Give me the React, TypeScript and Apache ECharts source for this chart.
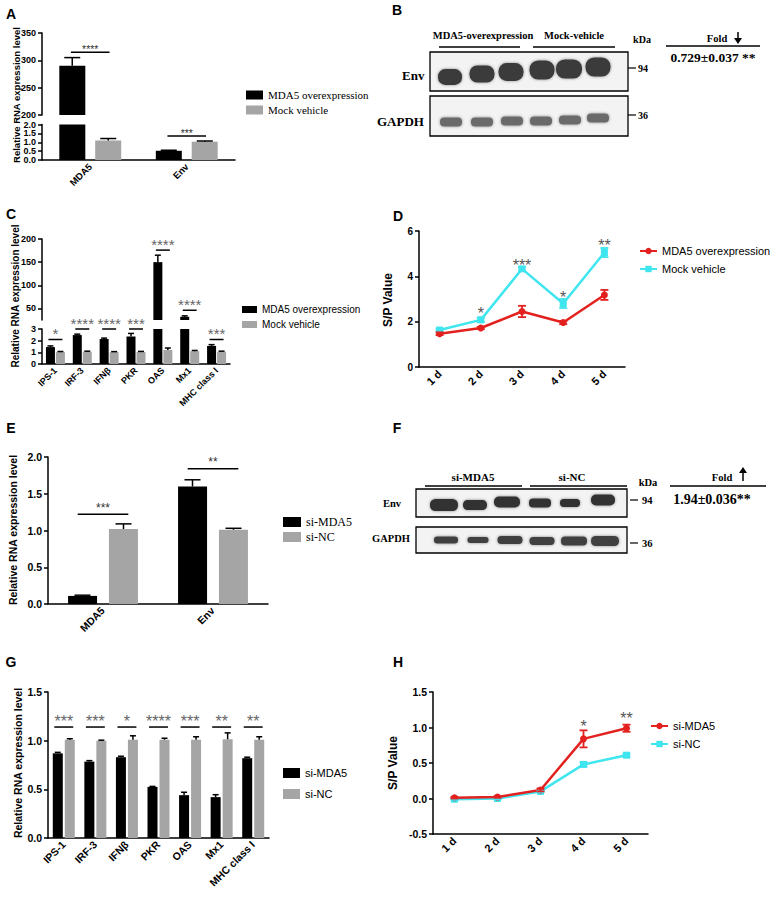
import React, { useEffect, useRef } from 'react';
import * as echarts from 'echarts';

const SANS = '"Liberation Sans", Arial, Helvetica, sans-serif';
const SERIF = '"Liberation Serif", "Times New Roman", Times, serif';
const INK = '#000000';
const GRAY = '#a5a5a5';
const RED = '#e3211f';
const CYAN = '#3fe5ef';

// ---------------- Panel A ----------------
const A_CATS = ['MDA5', 'Env'];
const A_NAMES = ['MDA5 overexpression', 'Mock vehicle'];
const A_OVER = [290, 0.52];
const A_OVER_HI = [305, 0.55];
const A_MOCK = [1.1, 1.03];
const A_MOCK_HI = [1.21, 1.07];
const A_SIG = ['****', '***'];
const A_SIG_Y = [315, 1.35];

// ---------------- Panel C ----------------
const C_CATS = ['IPS-1', 'IRF-3', 'IFNβ', 'PKR', 'OAS', 'Mx1', 'MHC class I'];
const C_NAMES = ['MDA5 overexpression', 'Mock vehicle'];
const C_OVER = [1.45, 2.48, 2.14, 2.35, 150, 32, 1.55];
const C_OVER_HI = [1.55, 2.56, 2.22, 2.62, 165, 34, 1.66];
const C_MOCK = [1.02, 1.05, 1.02, 1.03, 1.2, 1.1, 1.05];
const C_MOCK_HI = [1.07, 1.1, 1.06, 1.08, 1.37, 1.16, 1.1];
const C_SIG = ['*', '****', '****', '***', '****', '****', '***'];
const C_SIG_Y = [2.1, 3.0, 3.0, 3.0, 176, 46, 2.1];
const C_UPPER_TICKS = [50, 100, 150, 200];

// ---------------- Panel D ----------------
const D_DAYS = ['1 d', '2 d', '3 d', '4 d', '5 d'];
const D_NAMES = ['MDA5 overexpression', 'Mock vehicle'];
const D_OVER = [1.47, 1.72, 2.45, 1.96, 3.18];
const D_OVER_ERR = [0.06, 0.05, 0.25, 0.07, 0.22];
const D_MOCK = [1.63, 2.08, 4.33, 2.8, 5.05];
const D_MOCK_ERR = [0.05, 0.1, 0.08, 0.2, 0.2];
const D_SIG = ['', '*', '***', '*', '**'];
const D_SIG_Y = [0, 2.5, 4.62, 3.2, 5.5];

// ---------------- Panel E ----------------
const E_CATS = ['MDA5', 'Env'];
const E_NAMES = ['si-MDA5', 'si-NC'];
const E_SI = [0.11, 1.6];
const E_SI_HI = [0.12, 1.69];
const E_NC = [1.02, 1.01];
const E_NC_HI = [1.09, 1.03];
const E_SIG = ['***', '**'];
const E_SIG_Y = [1.22, 1.84];

// ---------------- Panel G ----------------
const G_CATS = ['IPS-1', 'IRF-3', 'IFNβ', 'PKR', 'OAS', 'Mx1', 'MHC class I'];
const G_NAMES = ['si-MDA5', 'si-NC'];
const G_SI = [0.87, 0.785, 0.83, 0.525, 0.44, 0.42, 0.82];
const G_SI_HI = [0.88, 0.795, 0.84, 0.53, 0.47, 0.445, 0.83];
const G_NC = [1.01, 1.0, 1.01, 1.01, 1.01, 1.015, 1.01];
const G_NC_HI = [1.02, 1.005, 1.05, 1.025, 1.04, 1.08, 1.04];
const G_SIG = ['***', '***', '*', '****', '***', '**', '**'];
const G_SIG_Y = [1.14, 1.14, 1.14, 1.14, 1.14, 1.14, 1.14];

// ---------------- Panel H ----------------
const H_DAYS = ['1 d', '2 d', '3 d', '4 d', '5 d'];
const H_NAMES = ['si-MDA5', 'si-NC'];
const H_SI = [0.01, 0.02, 0.12, 0.84, 0.99];
const H_SI_ERR = [0.01, 0.01, 0.02, 0.12, 0.05];
const H_NC = [-0.01, 0.0, 0.1, 0.48, 0.61];
const H_NC_ERR = [0.01, 0.01, 0.01, 0.03, 0.02];
const H_SIG = ['', '', '', '*', '**'];
const H_SIG_Y = [0, 0, 0, 1.07, 1.17];

// ---------------- Western blot texts ----------------
const B_GROUPS = ['MDA5-overexpression', 'Mock-vehicle'];
const B_FOLD = '0.729±0.037 **';
const F_GROUPS = ['si-MDA5', 'si-NC'];
const F_FOLD = '1.94±0.036**';
const BLOT_ROWS = ['Env', 'GAPDH'];
const BLOT_KDA = ['94', '36'];
const Y_TITLE = 'Relative RNA expression level';
const SP_TITLE = 'S/P Value';

function buildOption() {
  const grids: any[] = [];
  const xAxes: any[] = [];
  const yAxes: any[] = [];
  const series: any[] = [];
  const legends: any[] = [];

  const valueAxis = (gi: number, min: number, max: number, interval: number | null, dec: number, font: number, custom?: number[]) => {
    const ax: any = {
      gridIndex: gi, type: 'value', min, max,
      axisLine: { show: true, onZero: false, lineStyle: { color: INK, width: 1.5 } },
      axisTick: { show: true, length: 4, lineStyle: { color: INK, width: 1.5 } },
      axisLabel: { margin: 6, color: INK, fontFamily: SANS, fontWeight: 'bold', fontSize: font, formatter: (v: number) => v.toFixed(dec) },
      splitLine: { show: false },
    };
    if (interval) ax.interval = interval;
    if (custom) { ax.axisTick.customValues = custom; ax.axisLabel.customValues = custom; }
    return ax;
  };

  const catAxis = (gi: number, data: string[], font: number, show = true) => ({
    gridIndex: gi, type: 'category', data, boundaryGap: true, show,
    axisLine: { onZero: false, lineStyle: { color: INK, width: 1.5 } },
    axisTick: { alignWithLabel: true, length: 4, lineStyle: { color: INK, width: 1.5 } },
    axisLabel: { interval: 0, rotate: 45, margin: 5, color: INK, fontFamily: SANS, fontWeight: 'bold', fontSize: font },
    splitLine: { show: false },
  });

  const bar = (name: string, xi: number, yi: number, data: any[], color: string, w: number, gap: number) => ({
    type: 'bar', name, xAxisIndex: xi, yAxisIndex: yi, data, silent: true, clip: true, z: 2,
    barWidth: w, barGap: `${Math.round((gap / w) * 100)}%`,
    itemStyle: { color },
  });

  const errSeries = (xi: number, yi: number, pts: number[][], offset: number, capHalf: number, color: string, lw: number, both: boolean) => ({
    type: 'custom', xAxisIndex: xi, yAxisIndex: yi, silent: true, clip: false, z: 4,
    data: pts,
    renderItem: (_p: any, api: any) => {
      const lo = api.coord([api.value(0), api.value(1)]);
      const hi = api.coord([api.value(0), api.value(2)]);
      const x = lo[0] + offset;
      const st = { stroke: color, lineWidth: lw };
      const ch: any[] = [
        { type: 'line', shape: { x1: x, y1: lo[1], x2: x, y2: hi[1] }, style: st },
        { type: 'line', shape: { x1: x - capHalf, y1: hi[1], x2: x + capHalf, y2: hi[1] }, style: st },
      ];
      if (both) ch.push({ type: 'line', shape: { x1: x - capHalf, y1: lo[1], x2: x + capHalf, y2: lo[1] }, style: st });
      return { type: 'group', children: ch };
    },
  });

  const sigSeries = (xi: number, yi: number, items: { i: number; y: number; t: string }[], halfFrac: number, font: number, color: string, textOff: number, withLine: boolean) => ({
    type: 'custom', xAxisIndex: xi, yAxisIndex: yi, silent: true, clip: false, z: 5,
    data: items.map((d) => [d.i, d.y]),
    renderItem: (params: any, api: any) => {
      const it = items[params.dataIndex];
      const p = api.coord([api.value(0), api.value(1)]);
      const band = api.size([1, 0])[0];
      const hw = band * halfFrac;
      const ch: any[] = [];
      if (withLine) ch.push({ type: 'line', shape: { x1: p[0] - hw, y1: p[1], x2: p[0] + hw, y2: p[1] }, style: { stroke: INK, lineWidth: 1.5 } });
      ch.push({
        type: 'text', x: p[0], y: p[1] - textOff,
        style: { text: it.t, fill: color, font: `${font}px ${SANS}`, align: 'center', verticalAlign: 'middle', textAlign: 'center', textVerticalAlign: 'middle' },
      });
      return { type: 'group', children: ch };
    },
  });

  const addBarPanel = (p: any) => {
    const lg = grids.push({ left: p.left, top: p.lower.top, width: p.width, height: p.lower.height }) - 1;
    const lx = xAxes.push(catAxis(lg, p.cats, p.catFont)) - 1;
    const ly = yAxes.push(valueAxis(lg, p.lower.min, p.lower.max, p.lower.interval, p.lower.dec, p.tickFont)) - 1;
    const n1 = `${p.key}|${p.names[0]}`;
    const n2 = `${p.key}|${p.names[1]}`;
    series.push(bar(n1, lx, ly, p.v1, INK, p.barWidth, p.gapPx));
    series.push(bar(n2, lx, ly, p.v2, GRAY, p.barWidth, p.gapPx));
    let ux = -1;
    let uy = -1;
    const lowerMax = p.lower.max;
    if (p.upper) {
      const ug = grids.push({ left: p.left, top: p.upper.top, width: p.width, height: p.upper.height }) - 1;
      ux = xAxes.push(catAxis(ug, p.cats, p.catFont, false)) - 1;
      uy = yAxes.push(valueAxis(ug, p.upper.min, p.upper.max, p.upper.interval || null, 0, p.tickFont, p.upper.ticks)) - 1;
      series.push(bar(n1, ux, uy, p.v1.map((v: number) => (v > p.upper.min ? v : '-')), INK, p.barWidth, p.gapPx));
      series.push(bar(n2, ux, uy, p.v2.map((v: number) => (v > p.upper.min ? v : '-')), GRAY, p.barWidth, p.gapPx));
    }
    const off = (p.barWidth + p.gapPx) / 2;
    const groups: [number[], number[], number][] = [[p.v1, p.h1, -off], [p.v2, p.h2, off]];
    groups.forEach(([vals, his, o]) => {
      const lowPts: number[][] = [];
      const upPts: number[][] = [];
      vals.forEach((v, i) => {
        if (p.upper && his[i] > lowerMax) upPts.push([i, v, his[i]]);
        else lowPts.push([i, v, his[i]]);
      });
      if (lowPts.length) series.push(errSeries(lx, ly, lowPts, o, p.capHalf, INK, 1.5, false));
      if (upPts.length) series.push(errSeries(ux, uy, upPts, o, p.capHalf, INK, 1.5, false));
    });
    const lowSig: any[] = [];
    const upSig: any[] = [];
    p.sig.forEach((t: string, i: number) => {
      const y = p.sigY[i];
      if (p.upper && y > lowerMax) upSig.push({ i, y, t });
      else lowSig.push({ i, y, t });
    });
    if (lowSig.length) series.push(sigSeries(lx, ly, lowSig, p.sigHalf, p.sigFont, p.sigColor, p.sigOff, true));
    if (upSig.length) series.push(sigSeries(ux, uy, upSig, p.sigHalf, p.sigFont, p.sigColor, p.sigOff, true));
    legends.push({
      orient: 'vertical', left: p.legend.left, top: p.legend.top, padding: 0, icon: 'rect',
      itemWidth: p.legend.w, itemHeight: p.legend.h, itemGap: p.legend.gap, selectedMode: false,
      data: [n1, n2], formatter: (n: string) => n.split('|')[1],
      textStyle: { color: INK, fontFamily: p.legend.font, fontSize: p.legend.size, lineHeight: p.legend.lh },
    });
  };

  const addLinePanel = (p: any) => {
    const g = grids.push({ left: p.left, top: p.top, width: p.width, height: p.height }) - 1;
    const xi = xAxes.push(catAxis(g, p.cats, p.catFont)) - 1;
    const yi = yAxes.push(valueAxis(g, p.min, p.max, p.interval, p.dec, p.tickFont)) - 1;
    const n1 = `${p.key}|${p.names[0]}`;
    const n2 = `${p.key}|${p.names[1]}`;
    series.push({
      type: 'line', name: n1, xAxisIndex: xi, yAxisIndex: yi, data: p.v1, silent: true, z: 3,
      symbol: 'circle', symbolSize: 7, lineStyle: { color: RED, width: 2.5 }, itemStyle: { color: RED },
    });
    series.push({
      type: 'line', name: n2, xAxisIndex: xi, yAxisIndex: yi, data: p.v2, silent: true, z: 2,
      symbol: 'rect', symbolSize: 7, lineStyle: { color: CYAN, width: 2.5 }, itemStyle: { color: CYAN },
    });
    series.push(errSeries(xi, yi, p.v2.map((v: number, i: number) => [i, v - p.e2[i], v + p.e2[i]]), 0, 4, CYAN, 1.8, true));
    series.push(errSeries(xi, yi, p.v1.map((v: number, i: number) => [i, v - p.e1[i], v + p.e1[i]]), 0, 4, RED, 1.8, true));
    const items: any[] = [];
    p.sig.forEach((t: string, i: number) => { if (t) items.push({ i, y: p.sigY[i], t }); });
    series.push(sigSeries(xi, yi, items, 0, 16, '#555', -3.5, false));
    legends.push({
      orient: 'vertical', left: p.legend.left, top: p.legend.top, padding: 0,
      itemWidth: 17, itemHeight: 8, itemGap: p.legend.gap, selectedMode: false,
      data: [n1, n2], formatter: (n: string) => n.split('|')[1],
      textStyle: { color: INK, fontFamily: SANS, fontSize: 11, lineHeight: 12 },
    });
  };

  addBarPanel({
    key: 'A', cats: A_CATS, names: A_NAMES, v1: A_OVER, h1: A_OVER_HI, v2: A_MOCK, h2: A_MOCK_HI,
    sig: A_SIG, sigY: A_SIG_Y, left: 42, width: 193,
    lower: { top: 124.5, height: 35.5, min: 0, max: 2, interval: 0.5, dec: 1 },
    upper: { top: 33, height: 82, min: 200, max: 350, interval: 50 },
    barWidth: 26, gapPx: 10, capHalf: 8, sigHalf: 0.2, sigFont: 10.5, sigColor: '#333', sigOff: 3.5,
    tickFont: 9, catFont: 9.5,
    legend: { left: 246, top: 89, w: 17, h: 9, gap: 3, lh: 12, font: SERIF, size: 11 },
  });
  addBarPanel({
    key: 'C', cats: C_CATS, names: C_NAMES, v1: C_OVER, h1: C_OVER_HI, v2: C_MOCK, h2: C_MOCK_HI,
    sig: C_SIG, sigY: C_SIG_Y, left: 42, width: 188,
    lower: { top: 329, height: 35, min: 0, max: 3, interval: 1, dec: 0 },
    upper: { top: 239, height: 81, min: 25, max: 200, ticks: C_UPPER_TICKS },
    barWidth: 9, gapPx: 1, capHalf: 3, sigHalf: 0.26, sigFont: 15, sigColor: '#666', sigOff: 6,
    tickFont: 9, catFont: 9,
    legend: { left: 242, top: 303.5, w: 15, h: 7, gap: 3, lh: 12, font: SANS, size: 10 },
  });
  addBarPanel({
    key: 'E', cats: E_CATS, names: E_NAMES, v1: E_SI, h1: E_SI_HI, v2: E_NC, h2: E_NC_HI,
    sig: E_SIG, sigY: E_SIG_Y, left: 48, width: 220,
    lower: { top: 457, height: 147, min: 0, max: 2, interval: 0.5, dec: 1 },
    barWidth: 29, gapPx: 12, capHalf: 8, sigHalf: 0.23, sigFont: 12, sigColor: '#333', sigOff: 6.5,
    tickFont: 10.5, catFont: 10.5,
    legend: { left: 283, top: 516, w: 18, h: 10, gap: 3, lh: 12, font: SERIF, size: 12 },
  });
  addBarPanel({
    key: 'G', cats: G_CATS, names: G_NAMES, v1: G_SI, h1: G_SI_HI, v2: G_NC, h2: G_NC_HI,
    sig: G_SIG, sigY: G_SIG_Y, left: 48, width: 221,
    lower: { top: 692, height: 146, min: 0, max: 1.5, interval: 0.5, dec: 1 },
    barWidth: 10, gapPx: 2, capHalf: 3, sigHalf: 0.3, sigFont: 16, sigColor: '#666', sigOff: 6,
    tickFont: 10.5, catFont: 10.5,
    legend: { left: 283, top: 766.5, w: 17, h: 10, gap: 8, lh: 13, font: SANS, size: 11 },
  });
  addLinePanel({
    key: 'D', cats: D_DAYS, names: D_NAMES, v1: D_OVER, e1: D_OVER_ERR, v2: D_MOCK, e2: D_MOCK_ERR,
    sig: D_SIG, sigY: D_SIG_Y, left: 419, top: 231, width: 206, height: 136, min: 0, max: 6, interval: 2, dec: 0,
    tickFont: 10, catFont: 11, legend: { left: 639, top: 245, gap: 6 },
  });
  addLinePanel({
    key: 'H', cats: H_DAYS, names: H_NAMES, v1: H_SI, e1: H_SI_ERR, v2: H_NC, e2: H_NC_ERR,
    sig: H_SIG, sigY: H_SIG_Y, left: 433, top: 692, width: 215, height: 142, min: -0.5, max: 1.5, interval: 0.5, dec: 1,
    tickFont: 10.5, catFont: 11, legend: { left: 650, top: 720, gap: 6 },
  });

  // ---------------- graphic: letters, titles, blots ----------------
  const txt = (x: number, y: number, text: string, font: string, align = 'left', rotation = 0, fill = INK) => ({
    type: 'text', x, y, rotation, silent: true,
    style: { text, font, fill, align, verticalAlign: 'middle', textAlign: align, textVerticalAlign: 'middle' },
  });
  const ln = (x1: number, y1: number, x2: number, y2: number, w = 1.5) => ({
    type: 'line', silent: true, shape: { x1, y1, x2, y2 }, style: { stroke: INK, lineWidth: w },
  });
  const band = (cx: number, cy: number, w: number, h: number, fill: string) => ({
    type: 'rect', silent: true, shape: { x: cx - w / 2, y: cy - h / 2, width: w, height: h, r: Math.min(w, h) / 2.2 },
    style: { fill, shadowBlur: 3, shadowColor: 'rgba(0,0,0,0.45)' },
  });
  const box = (x: number, y: number, w: number, h: number) => ({
    type: 'rect', silent: true, shape: { x, y, width: w, height: h }, style: { fill: '#f3f3f3', stroke: INK, lineWidth: 1.3 },
  });

  const letter = (x: number, y: number, t: string) => txt(x, y, t, `bold 14px ${SANS}`, 'center');
  const g: any[] = [
    letter(11, 14, 'A'), letter(397, 10, 'B'), letter(11, 214, 'C'), letter(398, 216, 'D'),
    letter(11, 428, 'E'), letter(397, 428, 'F'), letter(11, 662, 'G'), letter(398, 662, 'H'),
    txt(16, 95, Y_TITLE, `bold 9.5px ${SANS}`, 'center', Math.PI / 2),
    txt(15, 296, Y_TITLE, `bold 10px ${SANS}`, 'center', Math.PI / 2),
    txt(13, 530, Y_TITLE, `bold 10.5px ${SANS}`, 'center', Math.PI / 2),
    txt(18, 763, Y_TITLE, `bold 10.5px ${SANS}`, 'center', Math.PI / 2),
    txt(388, 300, SP_TITLE, `bold 12px ${SANS}`, 'center', Math.PI / 2),
    txt(393, 763, SP_TITLE, `bold 12px ${SANS}`, 'center', Math.PI / 2),
  ];

  // Panel B blot
  g.push(txt(483, 35, B_GROUPS[0], `bold 10.5px ${SERIF}`, 'center'));
  g.push(txt(574, 35, B_GROUPS[1], `bold 10.5px ${SERIF}`, 'center'));
  g.push(ln(439, 47, 520, 47), ln(533, 47, 615, 47));
  g.push(box(430, 52, 198, 39), box(430, 96, 198, 40));
  [[450, 77, 24, 16], [482, 74, 25, 17], [511, 72, 25, 18], [542, 70, 25, 19], [569, 69, 26, 19], [598, 67, 25, 19]]
    .forEach(([x, y, w, h]) => g.push(band(x, y, w, h, '#3a3a3a')));
  [[451, 122, 22, 9], [482, 122, 22, 9], [512, 121, 22, 9], [541, 121, 22, 9], [570, 120, 22, 9], [598, 118, 22, 9]]
    .forEach(([x, y, w, h]) => g.push(band(x, y, w, h, '#6a6a6a')));
  g.push(txt(402, 75, BLOT_ROWS[0], `bold 13px ${SERIF}`));
  g.push(txt(377, 121, BLOT_ROWS[1], `bold 13px ${SERIF}`));
  g.push(txt(642, 39, 'kDa', `bold 10px ${SERIF}`, 'center'));
  g.push(ln(628, 68, 636, 68, 1.2), txt(638, 68, BLOT_KDA[0], `bold 10px ${SERIF}`));
  g.push(ln(628, 115, 636, 115, 1.2), txt(638, 115, BLOT_KDA[1], `bold 10px ${SERIF}`));
  g.push(txt(717, 38, 'Fold', `bold 10.5px ${SERIF}`, 'center'));
  g.push(ln(738, 32, 738, 40, 1.5));
  g.push({ type: 'polygon', silent: true, shape: { points: [[734, 38], [742, 38], [738, 44]] }, style: { fill: INK } });
  g.push(ln(666, 46, 760, 46, 1.5));
  g.push(txt(713, 57, B_FOLD, `bold 13.5px ${SERIF}`, 'center'));

  // Panel F blot
  g.push(txt(473, 477, F_GROUPS[0], `bold 11px ${SERIF}`, 'center'));
  g.push(txt(572, 477, F_GROUPS[1], `bold 11px ${SERIF}`, 'center'));
  g.push(ln(425, 486, 522, 486), ln(530, 486, 627, 486));
  g.push(box(416, 489, 211, 28), box(416, 527, 211, 26));
  [[444, 505, 28, 12], [475, 505, 24, 10], [507, 502, 26, 11], [540, 503, 22, 9], [570, 503, 20, 8], [603, 500, 24, 11]]
    .forEach(([x, y, w, h]) => g.push(band(x, y, w, h, '#303030')));
  [[446, 540, 24, 7], [478, 540, 21, 6], [510, 540, 25, 8], [542, 541, 25, 8], [574, 541, 26, 9], [605, 541, 28, 10]]
    .forEach(([x, y, w, h]) => g.push(band(x, y, w, h, '#404040')));
  g.push(txt(383, 503, BLOT_ROWS[0], `bold 10.5px ${SERIF}`));
  g.push(txt(372, 538, BLOT_ROWS[1], `bold 10.5px ${SERIF}`));
  g.push(txt(648, 482, 'kDa', `bold 10.5px ${SERIF}`, 'center'));
  g.push(ln(630, 500, 638, 500, 1.2), txt(642, 500, BLOT_KDA[0], `bold 10.5px ${SERIF}`));
  g.push(ln(630, 543, 638, 543, 1.2), txt(642, 543, BLOT_KDA[1], `bold 10.5px ${SERIF}`));
  g.push(txt(722, 477, 'Fold', `bold 10.5px ${SERIF}`, 'center'));
  g.push(ln(743, 470, 743, 481, 1.5));
  g.push({ type: 'polygon', silent: true, shape: { points: [[739, 473], [747, 473], [743, 467]] }, style: { fill: INK } });
  g.push(ln(670, 486, 766, 486, 1.5));
  g.push(txt(712, 499, F_FOLD, `bold 14px ${SERIF}`, 'center'));

  return {
    animation: false,
    backgroundColor: '#ffffff',
    grid: grids,
    xAxis: xAxes,
    yAxis: yAxes,
    legend: legends,
    series,
    graphic: { elements: g },
  };
}

export default function App() {
  const ref = useRef<HTMLDivElement>(null);
  useEffect(() => {
    document.body.style.margin = '0';
    const chart = echarts.init(ref.current as HTMLDivElement, null, { renderer: 'svg', width: 773, height: 904 });
    chart.setOption(buildOption() as any);
    return () => chart.dispose();
  }, []);
  return <div ref={ref} style={{ position: 'absolute', left: 0, top: 0, width: 773, height: 904, background: '#fff' }} />;
}
